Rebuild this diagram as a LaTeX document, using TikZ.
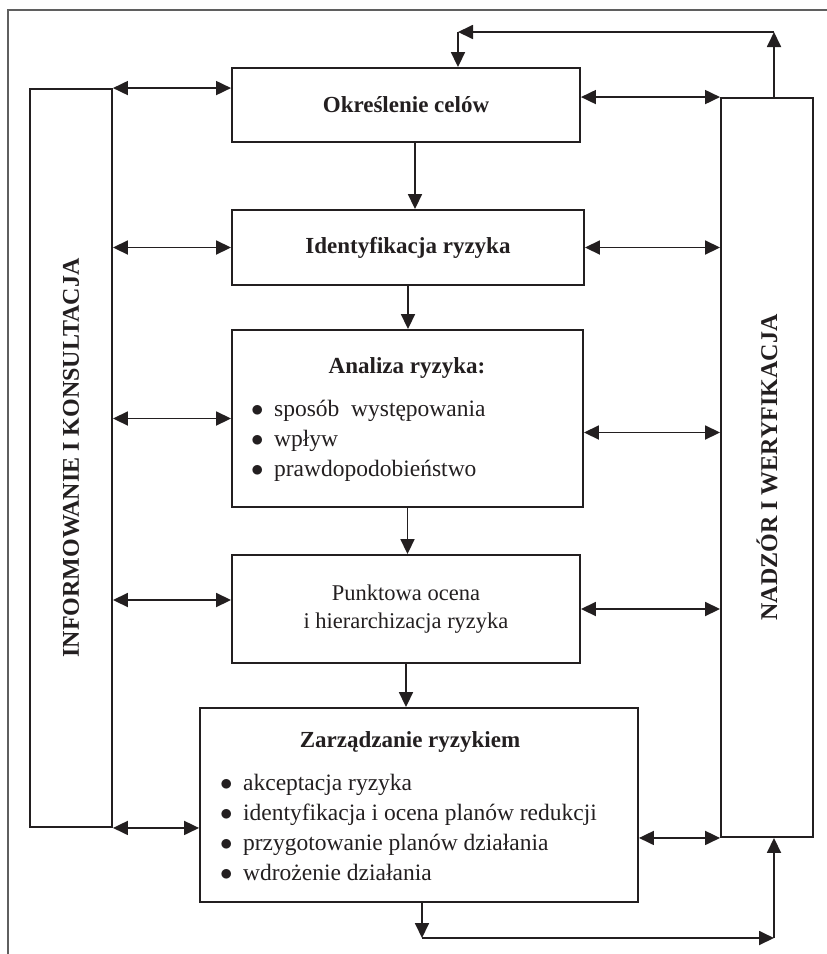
\documentclass[tikz,border=0pt]{standalone}
\usepackage{fontspec}
\setmainfont{Liberation Serif}
\usetikzlibrary{arrows.meta,positioning,calc}
\definecolor{ink}{RGB}{35,31,32}
\definecolor{rim}{RGB}{95,95,95}
\tikzset{
  >={Triangle[length=15pt,width=14pt]},
  box/.style={draw=ink,line width=1.9pt,inner sep=0pt},
  flow/.style={->,draw=ink,line width=1.8pt},
  both/.style={<->,draw=ink,line width=1.8pt},
  title/.style={font=\fontsize{23}{28}\selectfont\bfseries,text=ink,inner sep=0pt},
  plain/.style={font=\fontsize{22.5}{28.5}\selectfont,text=ink,align=center},
  list/.style={font=\fontsize{23.5}{29.7}\selectfont,text=ink,align=left,anchor=west,inner sep=0pt},
  side/.style={font=\fontsize{24}{28}\selectfont\bfseries,text=ink,rotate=90},
}
\newcommand{\bul}[1]{$\bullet$\hspace{10.5pt}#1}

\begin{document}
\begin{tikzpicture}[x=1pt,y=-1pt]
  \useasboundingbox (0,0) rectangle (827,954);
  \draw[rim,line width=1.3pt] (8,954) -- (8,10) -- (827,10);
  % side columns
  \node[box,minimum width=82pt,minimum height=738pt] (info) at (71,458) {};
  \node[side] at (info.center) {INFORMOWANIE I KONSULTACJA};
  \node[box,minimum width=92pt,minimum height=739pt] (nadzor) at (767,467.5) {};
  \node[side] at (nadzor.center) {NADZÓR I WERYFIKACJA};
  % process steps
  \node[box,minimum width=348pt,minimum height=74pt] (cel) at (406,105) {};
  \node[title] at (cel.center) {Określenie celów};
  \node[box,minimum width=352pt,minimum height=75pt] (ident) at (408,247.5) {};
  \node[title] at (ident.center) {Identyfikacja ryzyka};
  \node[box,minimum width=351pt,minimum height=177pt] (analiza) at (407.5,418.5) {};
  \node[title,anchor=base] at (407,373) {Analiza ryzyka:};
  \node[list] at (251,441) {\bul{sposób\ \ występowania}\\\bul{wpływ}\\\bul{prawdopodobieństwo}};
  \node[box,minimum width=348pt,minimum height=108pt] (ocena) at (406,609) {};
  \node[plain] at (ocena.center) {Punktowa ocena\\i hierarchizacja ryzyka};
  \node[box,minimum width=438pt,minimum height=194pt] (zarz) at (419,805) {};
  \node[title,anchor=base] at (410,747) {Zarządzanie ryzykiem};
  \node[list] at (220,827.5) {\bul{akceptacja ryzyka}\\\bul{identyfikacja i ocena planów redukcji}\\\bul{przygotowanie planów działania}\\\bul{wdrożenie działania}};
  % main chain
  \draw[flow] ([xshift=9pt]cel.south) -- ([xshift=9pt]cel.south |- ident.north);
  \draw[flow] (ident.south) -- (ident.south |- analiza.north);
  \draw[flow] (analiza.south) -- (analiza.south |- ocena.north);
  \draw[flow] (ocena.south) -- (ocena.south |- zarz.north);
  % links to the side columns
  \coordinate (ocenaL) at ([yshift=9pt]ocena.west);
  \coordinate (analizaR) at ([yshift=-14pt]analiza.east);
  \draw[both] (info.north east) -- (info.north east -| cel.west);
  \draw[both] (info.east |- ident.west) -- (ident.west);
  \draw[both] (info.east |- analiza.west) -- (analiza.west);
  \draw[both] (info.east |- ocenaL) -- (ocenaL);
  \draw[both] (info.south east) -- (info.south east -| zarz.west);
  \draw[both] (cel.east |- nadzor.north west) -- (nadzor.north west);
  \draw[both] (ident.east) -- (ident.east -| nadzor.west);
  \draw[both] (analizaR) -- (analizaR -| nadzor.west);
  \draw[both] (ocena.east) -- (ocena.east -| nadzor.west);
  \draw[both] (zarz.east |- nadzor.south west) -- (nadzor.south west);
  % feedback loops
  \coordinate (topR) at (774,32);
  \coordinate (topL) at (458,32);
  \draw[flow] (topR |- nadzor.north) -- (topR);
  \draw[flow] (topR) -- (topL);
  \draw[flow] (topL) -- (topL |- cel.north);
  \coordinate (botL) at (422,938);
  \coordinate (botR) at (774,938);
  \draw[flow] (botL |- zarz.south) -- (botL);
  \draw[flow] (botL) -- (botR);
  \draw[flow] (botR) -- (botR |- nadzor.south);
\end{tikzpicture}
\end{document}
